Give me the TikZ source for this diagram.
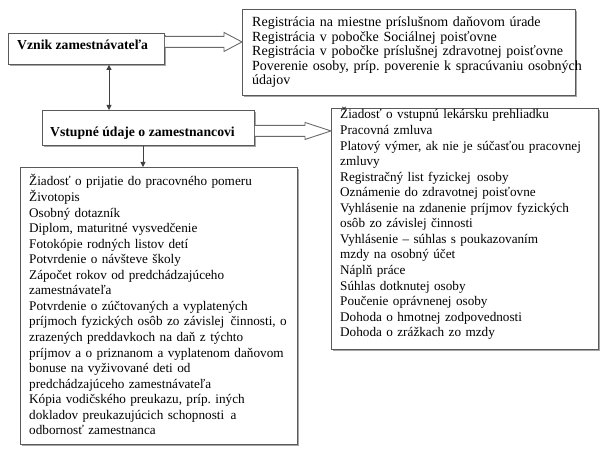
\documentclass[tikz,border=0pt]{standalone}
\usepackage{fontspec}
\setmainfont{Liberation Serif}
\usetikzlibrary{calc,arrows.meta,shadows}
\definecolor{boxgray}{HTML}{5A5A5A}
\definecolor{linegray}{HTML}{6A6A6A}
\frenchspacing
\begin{document}
\begin{tikzpicture}[x=1pt,y=-1pt,
  box/.style={draw=boxgray, line width=0.9pt, fill=white, inner sep=0pt, anchor=north west,
    drop shadow={shadow xshift=1.2pt, shadow yshift=-1.2pt, fill=black!35, opacity=1}},
  txt/.style={anchor=base west, inner sep=0pt, align=left, text width=400pt,
    font=\fontsize{13.2}{15.55}\selectfont},
  txttop/.style={txt, font=\fontsize{14}{14.5}\selectfont},
  ttl/.style={anchor=base west, inner sep=0pt, font=\fontsize{13.7}{14.6}\selectfont\bfseries},
  hollow/.style={draw=linegray, line width=0.9pt, fill=white, line join=miter},
  conn/.style={draw=black!75, line width=0.9pt, {Triangle[length=5pt,width=5pt]}-{Triangle[length=5pt,width=5pt]}},
  conndown/.style={draw=black!75, line width=0.9pt, -{Triangle[length=5pt,width=5pt]}}]
\fill[white] (0,0) rectangle (605,454);
\useasboundingbox (0,0) rectangle (605,454);

% boxes
\node[box, minimum width=156, minimum height=31] (vznik) at (8,33) {};
\node[box, minimum width=212, minimum height=35] (vstup) at (42,110) {};
\node[box, minimum width=333, minimum height=86] (reg) at (242,9) {};
\node[box, minimum width=267, minimum height=241] (prac) at (331,108) {};
\node[box, minimum width=277, minimum height=277] (dok) at (20,167) {};

% titles
\node[ttl] (tvznik) at (17,50) {Vznik zamestnávateľa};
\node[ttl] (tvstup) at (50,137) {Vstupné údaje o zamestnancovi};

% texts
\node[txttop] (treg) at (252,27) {Registrácia na miestne príslušnom daňovom úrade\\
Registrácia v pobočke Sociálnej poisťovne\\
Registrácia v pobočke príslušnej zdravotnej poisťovne\\
Poverenie osoby, príp. poverenie k spracúvaniu osobných\\
údajov};

\node[txt] (tprac) at (340,119) {Žiadosť o vstupnú lekársku prehliadku\\
Pracovná zmluva\\
Platový výmer, ak nie je súčasťou pracovnej\\
zmluvy\\
Registračný list fyzickej\hspace{2pt} osoby\\
Oznámenie do zdravotnej poisťovne\\
Vyhlásenie na zdanenie príjmov fyzických\\
osôb zo závislej činnosti\\
Vyhlásenie – súhlas s poukazovaním\\
mzdy na osobný účet\\
Náplň práce\\
Súhlas dotknutej osoby\\
Poučenie oprávnenej osoby\\
Dohoda o hmotnej zodpovednosti\\
Dohoda o zrážkach zo mzdy};

\node[txt] (tdok) at (29,186) {Žiadosť o prijatie do pracovného pomeru\\
Životopis\\
Osobný dotazník\\
Diplom, maturitné vysvedčenie\\
Fotokópie rodných listov detí\\
Potvrdenie o návšteve školy\\
Zápočet rokov od predchádzajúceho\\
zamestnávateľa\\
Potvrdenie o zúčtovaných a vyplatených\\
príjmoch fyzických osôb zo závislej\hspace{2pt} činnosti, o\\
zrazených preddavkoch na daň z týchto\\
príjmov a o priznanom a vyplatenom daňovom\\
bonuse na vyživované deti od\\
predchádzajúceho zamestnávateľa\\
Kópia vodičského preukazu, príp. iných\\
dokladov preukazujúcich schopnosti\hspace{2pt} a\\
odbornosť zamestnanca};

% hollow arrows
\coordinate (a1s) at ($(vznik.east)+(0,-7)$);
\coordinate (a1t) at (reg.west |- a1s);
\draw[hollow] let \p1=(a1s), \p2=(a1t) in
  (\x1,\y1+5.5pt) -- (\x2-18pt,\y1+5.5pt) -- (\x2-18pt,\y1+9.5pt) -- (\x2,\y1)
  -- (\x2-18pt,\y1-9.5pt) -- (\x2-18pt,\y1-5.5pt) -- (\x1,\y1-5.5pt);
\coordinate (a2s) at ($(vstup.east)+(0,3)$);
\coordinate (a2t) at (prac.west |- a2s);
\draw[hollow] let \p1=(a2s), \p2=(a2t) in
  (\x1,\y1+5.5pt) -- (\x2-26pt,\y1+5.5pt) -- (\x2-26pt,\y1+8.5pt) -- (\x2,\y1)
  -- (\x2-26pt,\y1-8.5pt) -- (\x2-26pt,\y1-5.5pt) -- (\x1,\y1-5.5pt);

% connectors
\coordinate (dax) at (109,0);
\coordinate (dbx) at (143,0);
\draw[conn] (vznik.south -| dax) -- (vstup.north -| dax);
\draw[conndown] (vstup.south -| dbx) -- (dok.north -| dbx);
\end{tikzpicture}
\end{document}
